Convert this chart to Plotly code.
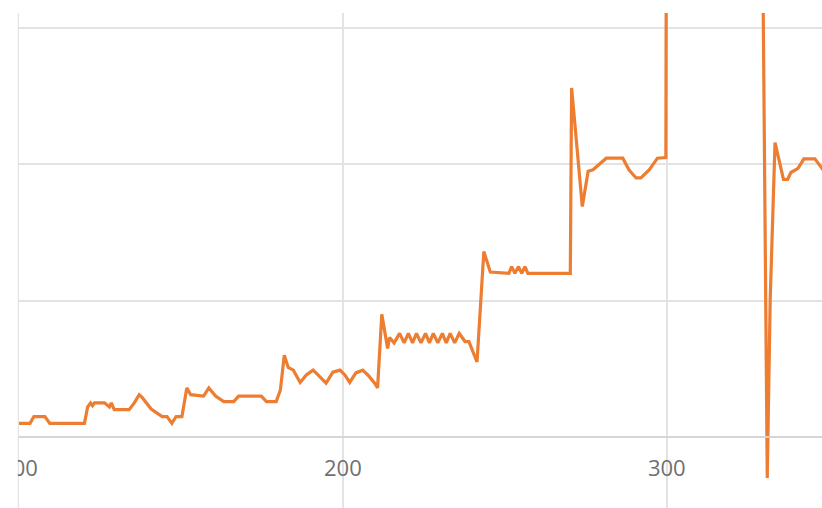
import plotly.graph_objects as go

# Values
x_vals = [
    100.0, 103.4, 104.6, 108.0, 109.5, 120.2, 121.2, 122.1, 122.7, 123.3,
    126.4, 127.9, 128.5, 129.4, 134.0, 135.6, 137.1, 138.0, 140.8, 142.6,
    144.2, 145.7, 147.2, 148.5, 150.3, 151.8, 153.0, 157.0, 158.6, 160.7,
    163.2, 166.3, 167.8, 174.8, 176.4, 179.4, 180.7, 181.9, 183.1, 184.7,
    186.8, 188.7, 190.8, 192.3, 194.8, 196.9, 199.1, 200.6, 202.1, 204.0,
    206.1, 207.7, 209.8, 210.7, 212.0, 213.8, 214.4, 215.8, 217.5, 218.9,
    220.2, 221.5, 222.7, 224.1, 225.5, 226.7, 227.9, 229.3, 230.7, 231.9,
    233.1, 234.5, 235.9, 237.7, 238.9, 241.4, 243.5, 245.5, 251.2, 252.1,
    253.1, 254.2, 255.2, 256.2, 257.1, 270.2, 270.6, 273.9, 275.7, 277.2,
    279.1, 281.3, 286.4, 288.3, 290.5, 292.0, 294.6, 297.1, 299.7, 302.0,
    320.0, 331.0, 331.9, 333.4, 336.0, 337.3, 338.3, 340.5, 342.3, 345.7,
    347.9, 349.0,
]
y_vals = [
    1.0, 1.0, 1.5, 1.5, 1.0, 1.0, 2.2, 2.5, 2.3, 2.5,
    2.5, 2.2, 2.5, 2.0, 2.0, 2.5, 3.1, 2.9, 2.05, 1.75,
    1.5, 1.5, 1.0, 1.5, 1.5, 3.6, 3.1, 3.0, 3.6, 3.0,
    2.6, 2.6, 3.0, 3.0, 2.6, 2.6, 3.45, 6.0, 5.1, 4.9,
    4.0, 4.55, 4.9, 4.55, 3.95, 4.75, 4.9, 4.55, 4.0, 4.7,
    4.9, 4.55, 3.95, 3.6, 9.0, 6.5, 7.3, 6.9, 7.6, 6.9,
    7.6, 6.9, 7.6, 6.9, 7.6, 6.9, 7.6, 6.9, 7.6, 6.9,
    7.6, 6.9, 7.6, 7.0, 7.0, 5.5, 13.6, 12.1, 12.0, 12.5,
    12.0, 12.5, 12.0, 12.5, 12.0, 12.0, 25.6, 16.9, 19.5, 19.6,
    20.0, 20.45, 20.45, 19.6, 19.0, 19.0, 19.6, 20.45, 20.5, 300.0,
    300.0, -3.0, 10.0, 21.6, 18.9, 18.9, 19.4, 19.7, 20.4, 20.4,
    19.7, 19.3,
]
x_ticks = [100, 200, 300]
x_tick_text = ["100", "200", "300"]
y_grid = [0, 10, 20, 30]

x_range = [100, 347.9]
y_range = [-5.21, 31.1]

fig = go.Figure()
fig.add_trace(go.Scatter(
    x=x_vals, y=y_vals, mode="lines",
    line=dict(color="#ED7D31", width=3.2),
    hoverinfo="skip", showlegend=False,
))

zero_pos = (0 - y_range[0]) / (y_range[1] - y_range[0])

fig.update_layout(
    width=822, height=508,
    margin=dict(l=14, r=0, t=13, b=0),
    paper_bgcolor="white", plot_bgcolor="white",
    xaxis=dict(
        range=x_range, tickvals=x_ticks, ticktext=x_tick_text,
        showgrid=True, gridcolor="#e3e3e3", gridwidth=2,
        zeroline=False, showline=True, linecolor="#d6d6d6", linewidth=2,
        anchor="free", position=zero_pos,
        ticks="", ticklabelstandoff=12, ticklabeloverflow="allow",
        tickfont=dict(family="Open Sans", size=22, color="#707070"),
    ),
    yaxis=dict(
        range=y_range, tickvals=y_grid, showticklabels=False,
        showgrid=True, gridcolor="#e3e3e3", gridwidth=2,
        zeroline=False, showline=True, linecolor="#e3e3e3", linewidth=2,
        ticks="",
    ),
    shapes=[dict(
        type="rect", xref="paper", yref="paper",
        x0=-0.03, x1=-0.0015, y0=-0.1, y1=1.1,
        fillcolor="white", line=dict(width=0), layer="above",
    )],
)

fig.write_html(
    "out.html",
    config={"displayModeBar": False},
    post_script="document.body.style.margin='0';document.body.style.overflow='hidden';",
)
